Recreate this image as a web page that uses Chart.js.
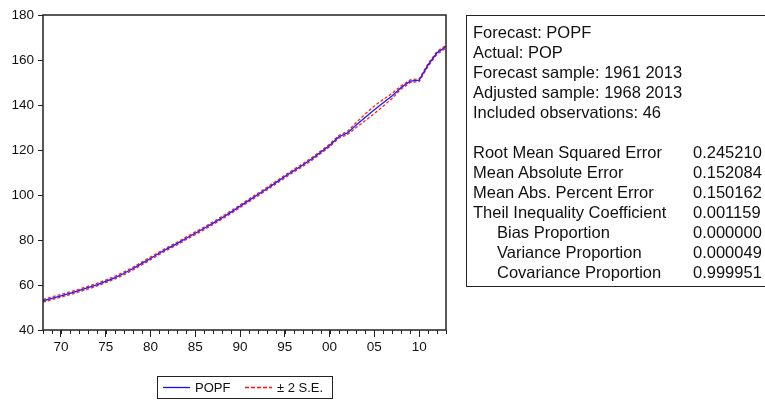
<!DOCTYPE html>
<html>
<head>
<meta charset="utf-8">
<script src="https://cdn.jsdelivr.net/npm/chart.js@4"></script>
<style>
  html, body { margin: 0; padding: 0; background: #fff; }
  #wrap { position: relative; width: 765px; height: 400px; overflow: hidden; }
  #c { position: absolute; left: 0; top: 0; }
  #stats { position: absolute; left: 466px; top: 15px; width: 320px; height: 272px;
           border: 1px solid #222; box-sizing: border-box;
           font-family: "Liberation Sans", Arial, sans-serif; font-size: 16.5px; color: #111; }
  #stats div { position: absolute; white-space: nowrap; line-height: 20px; }
</style>
</head>
<body>
<div id="wrap">
  <canvas id="c" width="765" height="400"></canvas>
  <div id="stats"></div>
</div>
<script>
// ---- data ----
const years = [1968,1969,1970,1971,1972,1973,1974,1975,1976,1977,1978,1979,1980,1981,1982,1983,1984,1985,1986,1987,1988,1989,1990,1991,1992,1993,1994,1995,1996,1997,1998,1999,2000,2001,2002,2003,2004,2005,2006,2007,2008,2009,2010,2011,2012,2013];
const popf = [53.0,54.1,55.2,56.3,57.5,58.8,60.1,61.6,63.2,65.1,67.2,69.5,71.8,74.2,76.4,78.5,80.8,83.0,85.2,87.5,89.9,92.4,95.0,97.6,100.2,102.8,105.5,108.2,110.8,113.3,116.0,119.0,122.0,125.8,127.6,131.2,134.6,137.9,141.0,144.1,147.8,150.6,151.0,157.8,163.2,165.9];
const upperSE = [53.6,54.7,55.8,56.9,58.1,59.4,60.7,62.2,63.8,65.7,67.8,70.1,72.4,74.8,77.0,79.1,81.4,83.6,85.8,88.1,90.5,93.0,95.6,98.2,100.8,103.4,106.1,108.8,111.4,113.9,116.6,119.6,122.6,126.4,128.3,132.3,136.1,139.6,142.5,145.2,148.5,151.2,151.6,158.4,163.8,166.5];
const lowerSE = [52.4,53.5,54.6,55.7,56.9,58.2,59.5,61.0,62.6,64.5,66.6,68.9,71.2,73.6,75.8,77.9,80.2,82.4,84.6,86.9,89.3,91.8,94.4,97.0,99.6,102.2,104.9,107.6,110.2,112.7,115.4,118.4,121.4,125.2,126.9,130.1,133.1,136.2,139.5,143.0,147.1,150.0,150.4,157.2,162.6,165.3];
const xTickYears = [1970,1975,1980,1985,1990,1995,2000,2005,2010];
const xTickLabels = ['70','75','80','85','90','95','00','05','10'];
const yTicks = [40,60,80,100,120,140,160,180];
const legendLabels = ['POPF','± 2 S.E.'];
const statsHeader = ['Forecast: POPF','Actual: POP','Forecast sample: 1961 2013','Adjusted sample: 1968 2013','Included observations: 46'];
const statNames = ['Root Mean Squared Error','Mean Absolute Error','Mean Abs. Percent Error','Theil Inequality Coefficient','Bias Proportion','Variance Proportion','Covariance Proportion'];
const statValues = ['0.245210','0.152084','0.150162','0.001159','0.000000','0.000049','0.999951'];
const statIndent = [false,false,false,false,true,true,true];

// ---- stats box (HTML text) ----
const box = document.getElementById('stats');
function addLine(text, left, top) {
  const d = document.createElement('div');
  d.textContent = text;
  d.style.left = left + 'px';
  d.style.top = top + 'px';
  box.appendChild(d);
}
statsHeader.forEach((t, i) => addLine(t, 6, 6 + i * 20));
statNames.forEach((t, i) => {
  addLine(t, statIndent[i] ? 30 : 6, 126 + i * 20);
  addLine(statValues[i], 226, 126 + i * 20);
});

const FONT = '"Liberation Sans", Arial, sans-serif';
const mk = (ys) => years.map((y, i) => ({x: y, y: ys[i]}));

const framePlugin = {
  id: 'frame',
  afterDraw(chart) {
    const {ctx, chartArea: a} = chart;
    const xs = chart.scales.x;
    ctx.save();
    ctx.strokeStyle = '#222';
    ctx.lineWidth = 1.5;
    ctx.strokeRect(a.left, a.top, a.right - a.left, a.bottom - a.top);
    // minor year ticks
    ctx.lineWidth = 1;
    ctx.beginPath();
    years.forEach(y => {
      const px = Math.round(xs.getPixelForValue(y)) + 0.5;
      ctx.moveTo(px, a.bottom);
      ctx.lineTo(px, a.bottom + 4);
    });
    ctx.stroke();
    // legend
    const lx = 157.5, ly = 376.5, lw = 175, lh = 22;
    ctx.strokeStyle = '#222';
    ctx.lineWidth = 1;
    ctx.strokeRect(lx, ly, lw, lh);
    const cy = ly + lh / 2;
    ctx.strokeStyle = '#1010ff';
    ctx.lineWidth = 1.3;
    ctx.beginPath(); ctx.moveTo(163, cy); ctx.lineTo(190, cy); ctx.stroke();
    ctx.strokeStyle = '#ff1010';
    ctx.lineWidth = 1.3;
    ctx.setLineDash([4, 2]);
    ctx.beginPath(); ctx.moveTo(245, cy); ctx.lineTo(272, cy); ctx.stroke();
    ctx.setLineDash([]);
    ctx.fillStyle = '#111';
    ctx.font = '13px ' + FONT;
    ctx.textBaseline = 'middle';
    ctx.fillText(legendLabels[0], 195, cy + 0.5);
    ctx.fillText(legendLabels[1], 277, cy + 0.5);
    ctx.restore();
  }
};

new Chart(document.getElementById('c'), {
  type: 'line',
  data: {
    datasets: [
      {label: legendLabels[0], data: mk(popf), borderColor: '#1a1aff', borderWidth: 1.3, pointRadius: 0, tension: 0},
      {label: legendLabels[1], data: mk(upperSE), borderColor: '#ff2020', borderWidth: 1.3, borderDash: [3, 2], pointRadius: 0, tension: 0},
      {label: legendLabels[1] + ' lower', data: mk(lowerSE), borderColor: '#ff2020', borderWidth: 1.3, borderDash: [3, 2], pointRadius: 0, tension: 0}
    ]
  },
  options: {
    responsive: false,
    animation: false,
    events: [],
    layout: {padding: {top: 15, right: 319, bottom: 0, left: 0}},
    plugins: {legend: {display: false}, tooltip: {enabled: false}},
    scales: {
      x: {
        type: 'linear', min: 1968, max: 2013,
        afterBuildTicks: s => { s.ticks = xTickYears.map(v => ({value: v})); },
        afterFit: s => { s.height = 70; },
        grid: {drawOnChartArea: false, drawTicks: true, tickLength: 7, color: '#222', lineWidth: 1},
        border: {display: false},
        ticks: {
          font: {family: FONT, size: 13.5}, color: '#111', padding: 2, maxRotation: 0, autoSkip: false,
          callback: v => { const i = xTickYears.indexOf(v); return i >= 0 ? xTickLabels[i] : ''; }
        }
      },
      y: {
        min: 40, max: 180,
        afterBuildTicks: s => { s.ticks = yTicks.map(v => ({value: v})); },
        afterFit: s => { s.width = 43; },
        grid: {drawOnChartArea: false, drawTicks: true, tickLength: 5, color: '#222', lineWidth: 1},
        border: {display: false},
        ticks: {font: {family: FONT, size: 13.5}, color: '#111', padding: 4}
      }
    }
  },
  plugins: [framePlugin]
});
</script>
</body>
</html>
